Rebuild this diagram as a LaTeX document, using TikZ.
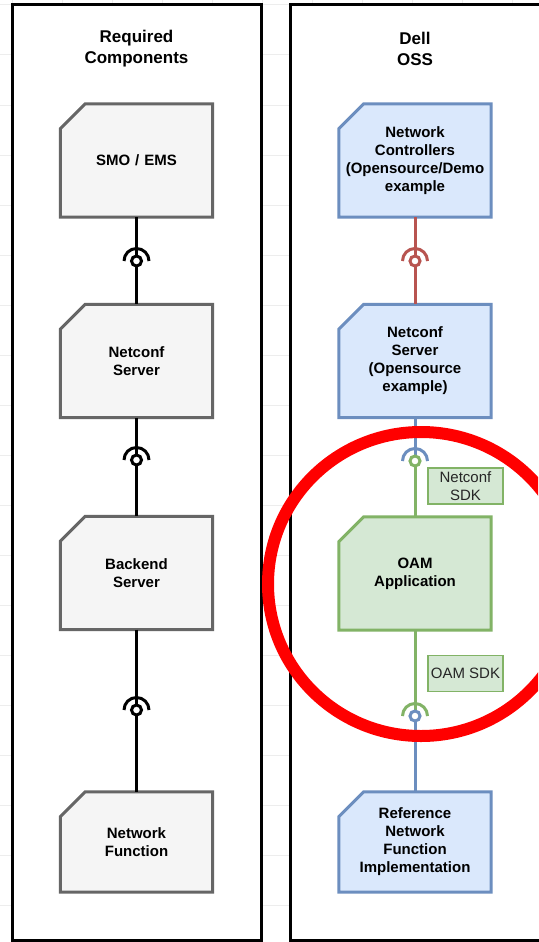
\documentclass[tikz,border=0pt]{standalone}
\usepackage{fontspec}
\setmainfont{Liberation Sans}
\usetikzlibrary{backgrounds}
\definecolor{grayF}{HTML}{F5F5F5}
\definecolor{grayE}{HTML}{666666}
\definecolor{blueF}{HTML}{DAE8FC}
\definecolor{blueE}{HTML}{6C8EBF}
\definecolor{greenF}{HTML}{D5E8D4}
\definecolor{greenE}{HTML}{82B366}
\definecolor{redE}{HTML}{B85450}
\definecolor{gridc}{HTML}{EDEDED}
\pgfdeclarelayer{bottom}
\pgfsetlayers{bottom,background,main}
\begin{document}
\begin{tikzpicture}[x=1pt,y=-1pt,
  gridline/.style={draw=gridc, line width=1pt},
  panel/.style={draw=black, fill=white, line width=3pt},
  titletext/.style={align=center, font=\bfseries\fontsize{17}{21}\selectfont, text=black},
  card/.style={rectangle, minimum width=152pt, minimum height=113pt, inner sep=0pt,
    text width=150pt, align=center, font=\bfseries\fontsize{15}{18}\selectfont, text=black},
  shortcard/.style={minimum height=100pt},
  sdk/.style={draw=greenE, fill=greenF, line width=1.5pt, minimum width=75pt,
    minimum height=36pt, inner sep=0pt, align=center,
    font=\fontsize{15}{18}\selectfont, text=black!85},
  blkline/.style={draw=black, line width=3pt},
  redline/.style={draw=redE, line width=3pt},
  blueline/.style={draw=blueE, line width=3pt},
  greenline/.style={draw=greenE, line width=3pt},
  ball/.style={circle, fill=white, minimum size=10pt, inner sep=0pt},
  ring/.style={draw=red, line width=12pt}
]
\useasboundingbox (0,0) rectangle (538,942);
\clip (0,0) rectangle (538,942);

\begin{pgfonlayer}{bottom}
\fill[white] (0,0) rectangle (538,942);
\foreach \x in {12,62,...,512} \draw[gridline] (\x,0) -- (\x,942);
\foreach \y in {5,55,...,905} \draw[gridline] (0,\y) -- (538,\y);
\draw[panel] (12,5) rectangle (261,940);
\draw[panel] (290,5) rectangle (542,940);
\end{pgfonlayer}

% titles
\node[titletext] (t1) at (136.5,48.5) {Required\\Components};
\node[titletext] (t2) at (415,48.5) {Dell\\OSS};

% left column
\node[card] (smo) at (136.5,160.5) {SMO / EMS};
\node[card] (ncl) at (136.5,361) {Netconf\\Server};
\node[card] (be) at (136.5,573) {Backend\\Server};
\node[card, shortcard] (nf) at (136.5,842) {Network\\Function};

% right column
\node[card] (ctl) at (415,160.5) {Network\\Controllers\\(Opensource/Demo\\example};
\node[card] (ncr) at (415,361) {Netconf\\Server\\(Opensource\\example)};
\node[card] (oam) at (415,573.5) {OAM\\Application};
\node[card, shortcard] (ref) at (415,842) {Reference\\Network\\Function\\Implementation};

% card outlines (cut top-left corner)
\begin{pgfonlayer}{background}
\foreach \n/\e/\f in {smo/grayE/grayF, ncl/grayE/grayF, be/grayE/grayF, nf/grayE/grayF,
    ctl/blueE/blueF, ncr/blueE/blueF, oam/greenE/greenF, ref/blueE/blueF}
  \path[draw=\e, fill=\f, line width=3pt, line join=miter]
    (\n.south west) -- (\n.south east) -- (\n.north east)
    -- ([xshift=25pt]\n.north west) -- ([yshift=-25pt]\n.north west) -- cycle;
\end{pgfonlayer}

% left connectors
\draw[blkline] (smo.south) -- (ncl.north);
\draw[blkline] (ncl.south) -- (be.north);
\draw[blkline] (be.south) -- (nf.north);
\node[ball, draw=black, line width=3pt] (l1) at (136.5,261) {};
\node[ball, draw=black, line width=3pt] (l2) at (136.5,460) {};
\node[ball, draw=black, line width=3pt] (l3) at (136.5,710) {};
\foreach \b in {l1,l2,l3}
  \draw[blkline] ([xshift=-12.5pt]\b.center) arc[start angle=180, end angle=360, radius=12.5];

% right connectors
\draw[redline] (ctl.south) -- (ncr.north);
\node[ball, draw=redE, line width=3pt] (r1) at (415,261) {};
\draw[redline] ([xshift=-12.5pt]r1.center) arc[start angle=180, end angle=360, radius=12.5];

\coordinate (r2c) at (415,461);
\draw[blueline] (ncr.south) -- (r2c);
\draw[greenline] (r2c) -- (oam.north);
\node[ball, draw=greenE, line width=3pt] (r2) at (r2c) {};
\draw[blueline] ([xshift=-12.5pt]r2.center) arc[start angle=180, end angle=360, radius=12.5];

\coordinate (r3c) at (415,716);
\draw[greenline] (oam.south) -- (r3c);
\draw[blueline] (r3c) -- (ref.north);
\node[ball, draw=blueE, line width=3pt] (r3) at (r3c) {};
\draw[greenline] ([xshift=-12.5pt]r3.center) arc[start angle=180, end angle=360, radius=12.5];

% sdk labels
\node[sdk] (sdk1) at (465.5,486) {Netconf\\SDK};
\node[sdk] (sdk2) at (465.5,673.5) {OAM SDK};

% red highlight
\draw[ring] (421,584) ellipse [x radius=153, y radius=152];
\end{tikzpicture}
\end{document}
